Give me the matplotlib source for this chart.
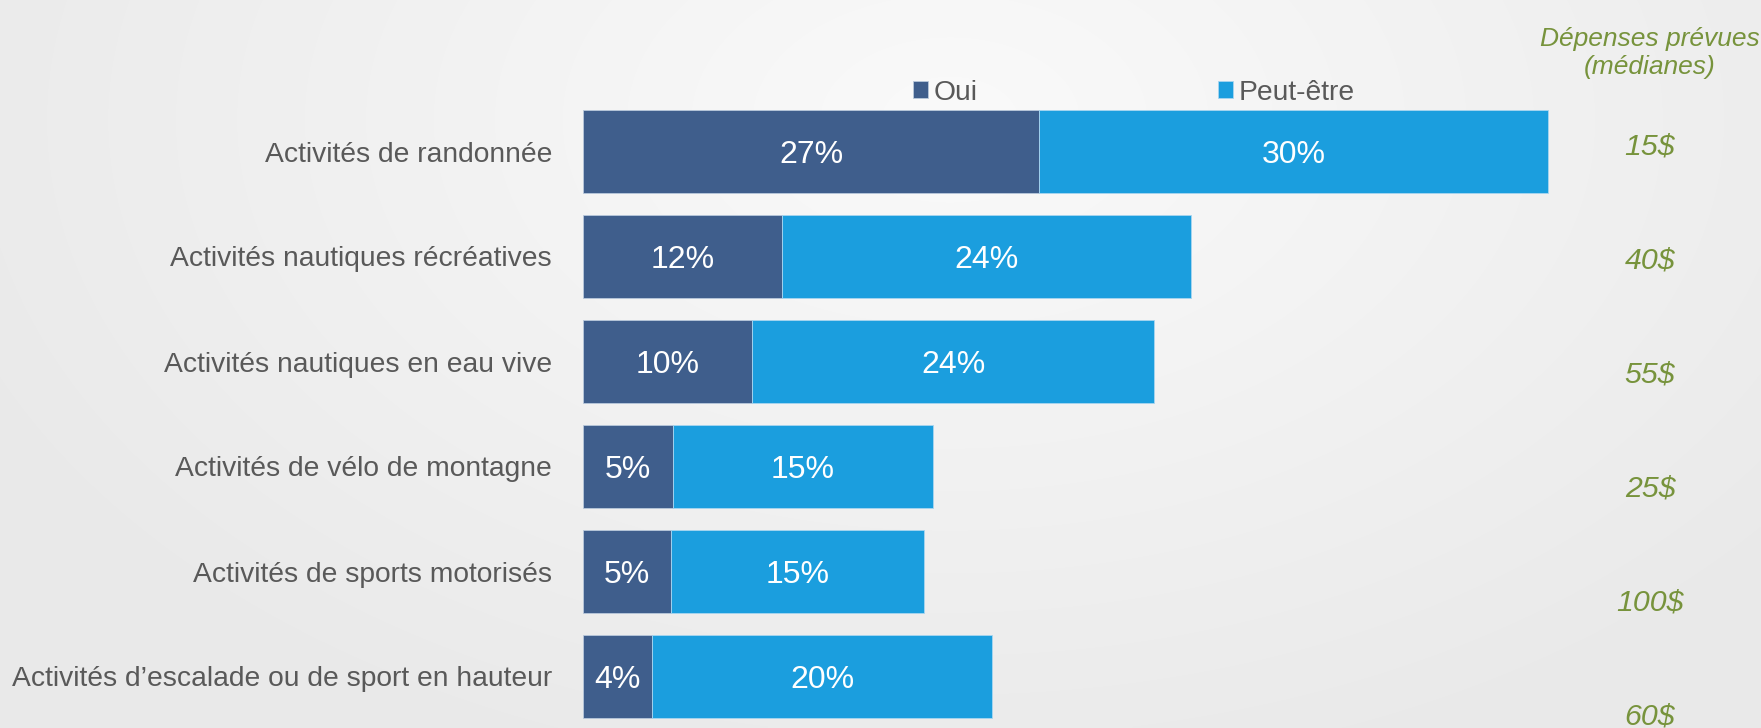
import numpy as np
import matplotlib.pyplot as plt
from matplotlib.colors import LinearSegmentedColormap

plt.rcParams['font.family'] = ['Liberation Sans', 'DejaVu Sans']

# data (percent of respondents)
categories = ["Activités de randonnée",
              "Activités nautiques récréatives",
              "Activités nautiques en eau vive",
              "Activités de vélo de montagne",
              "Activités de sports motorisés",
              "Activités d\u2019escalade ou de sport en hauteur"]
oui = [27.0, 11.8, 10.0, 5.3, 5.2, 4.1]
peut_etre = [30.1, 24.2, 23.8, 15.4, 15.0, 20.1]
oui_labels = ["27%", "12%", "10%", "5%", "5%", "4%"]
pe_labels = ["30%", "24%", "24%", "15%", "15%", "20%"]
depenses = ["15$", "40$", "55$", "25$", "100$", "60$"]

c_oui = '#3F5E8C'
c_pe = '#1B9EDE'
c_text = '#595959'
c_green = '#77933C'

W, H = 1761, 728
fig = plt.figure(figsize=(W / 100, H / 100), dpi=100)

# soft radial background
bg = fig.add_axes([0, 0, 1, 1], zorder=-1)
yy, xx = np.mgrid[0:H, 0:W]
r = np.sqrt(((xx - 950) / 1100) ** 2 + ((yy - 120) / 700) ** 2)
cmap = LinearSegmentedColormap.from_list('bg', ['#FAFAFA', '#E9E9E9'])
bg.imshow(np.clip(r, 0, 1), cmap=cmap, aspect='auto', vmin=0, vmax=1)
bg.axis('off')

px = 16.9  # pixels per percent
x0 = 583
ax = fig.add_axes([x0 / W, 0, 60 * px / W, 1])
ax.patch.set_alpha(0)
ax.set_xlim(0, 60)
ax.set_ylim((H - 151.5) / 105, -151.5 / 105)
ax.axis('off')

y = np.arange(len(categories))
h = 83 / 105
b1 = ax.barh(y, oui, height=h, color=c_oui, edgecolor='#B9C9DC', linewidth=0.6, label='Oui')
b2 = ax.barh(y, peut_etre, left=oui, height=h, color=c_pe, edgecolor='#A9D6F0', linewidth=0.6,
             label='Peut-être')

for i in range(len(categories)):
    ax.text(oui[i] / 2, y[i], oui_labels[i], ha='center', va='center_baseline', color='white',
            fontsize=23)
    ax.text(oui[i] + peut_etre[i] / 2, y[i], pe_labels[i], ha='center', va='center_baseline',
            color='white', fontsize=23)
    ax.text(-(x0 - 552) / px, y[i], categories[i], ha='right', va='center_baseline',
            color=c_text, fontsize=20.3, clip_on=False)
    # spending labels drift slightly downward relative to the bars
    ax.text((1650 - x0) / px, -0.05 + i * 1.086, depenses[i], ha='center', va='center',
            color=c_green, fontsize=21.8, style='italic', clip_on=False)

ax.text((1650 - x0) / px, (53 - 151.5) / 105, "Dépenses prévues\n(médianes)", ha='center',
        va='center', color=c_green, fontsize=19, style='italic', linespacing=1.2)

ax.legend(handles=[b1, b2], ncol=2, loc='center', frameon=False,
          bbox_to_anchor=((1134 - x0) / px, (92.5 - 151.5) / 105), bbox_transform=ax.transData,
          handlelength=0.53, handleheight=0.53, handletextpad=0.21, columnspacing=8.5,
          prop={'size': 20.3}, labelcolor=c_text, borderpad=0)

fig.savefig('out.png', dpi=100)
